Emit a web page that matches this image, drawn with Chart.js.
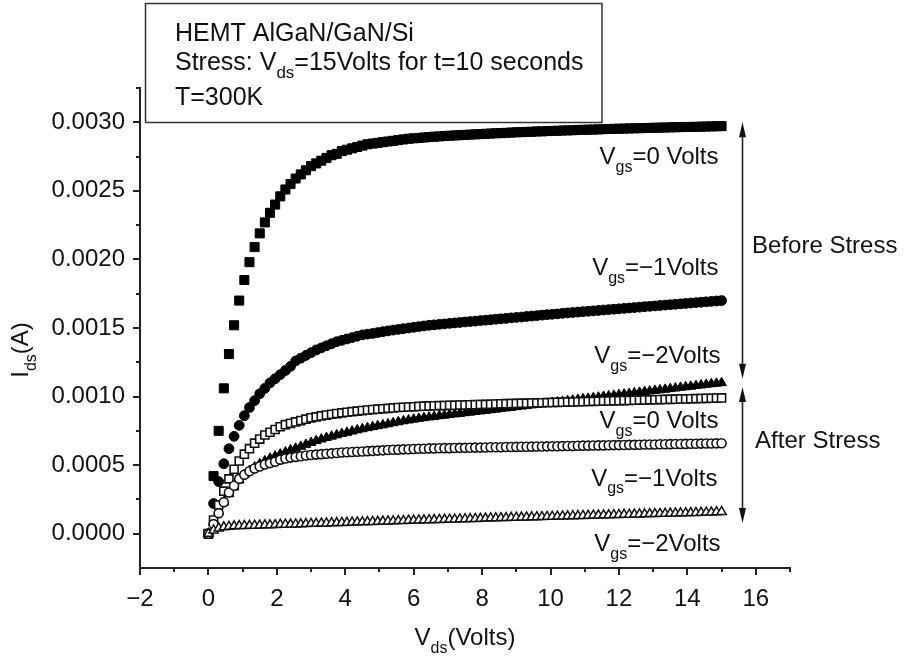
<!DOCTYPE html>
<html>
<head>
<meta charset="utf-8">
<script src="https://cdn.jsdelivr.net/npm/chart.js@4.4.0/dist/chart.umd.min.js"></script>
<style>
html, body { margin: 0; padding: 0; background: #fff; }
#wrap { width: 908px; height: 657px; }
</style>
</head>
<body>
<div id="wrap"><canvas id="ivChart" width="908" height="657"></canvas></div>
<script>
// drain voltage sweep (V)
const vds = [
  0, 0.15, 0.3, 0.45, 0.6, 0.75, 0.9, 1.05, 1.2, 1.35, 1.5, 1.65, 1.8, 1.95, 2.1, 2.25, 2.4, 2.55, 2.7, 2.85, 3,
  3.15, 3.3, 3.45, 3.6, 3.75, 3.9, 4.05, 4.2, 4.35, 4.5, 4.65, 4.8, 4.95, 5.1, 5.25, 5.4, 5.55, 5.7, 5.85, 6,
  6.15, 6.3, 6.45, 6.6, 6.75, 6.9, 7.05, 7.2, 7.35, 7.5, 7.65, 7.8, 7.95, 8.1, 8.25, 8.4, 8.55, 8.7, 8.85, 9,
  9.15, 9.3, 9.45, 9.6, 9.75, 9.9, 10.05, 10.2, 10.35, 10.5, 10.65, 10.8, 10.95, 11.1, 11.25, 11.4, 11.55, 11.7, 11.85, 12,
  12.15, 12.3, 12.45, 12.6, 12.75, 12.9, 13.05, 13.2, 13.35, 13.5, 13.65, 13.8, 13.95, 14.1, 14.25, 14.4, 14.55, 14.7, 14.85, 15
];

// drain current in mA
const beforeVgs0 = [
  0, 0.42, 0.75, 1.06, 1.31, 1.52, 1.70, 1.85, 1.98, 2.09,
  2.19, 2.27, 2.34, 2.40, 2.46, 2.51, 2.55, 2.59, 2.62, 2.65,
  2.68, 2.70, 2.72, 2.74, 2.76, 2.77, 2.79, 2.80, 2.81, 2.82,
  2.83, 2.84, 2.845, 2.85, 2.855, 2.86, 2.865, 2.87, 2.875, 2.88,
  2.883, 2.886, 2.889, 2.892, 2.895, 2.897, 2.900, 2.902, 2.904, 2.906,
  2.908, 2.910, 2.912, 2.914, 2.916, 2.918, 2.920, 2.921, 2.923, 2.925,
  2.927, 2.928, 2.930, 2.931, 2.933, 2.934, 2.936, 2.937, 2.938, 2.940,
  2.941, 2.942, 2.944, 2.945, 2.946, 2.947, 2.948, 2.950, 2.951, 2.952,
  2.953, 2.954, 2.955, 2.956, 2.957, 2.958, 2.959, 2.960, 2.961, 2.962,
  2.963, 2.964, 2.965, 2.966, 2.966, 2.967, 2.968, 2.969, 2.970, 2.971, 2.972
];
const beforeVgsM1 = [
  0, 0.22, 0.38, 0.51, 0.62, 0.71, 0.79, 0.86, 0.92, 0.97,
  1.02, 1.06, 1.10, 1.13, 1.16, 1.19, 1.22, 1.26, 1.28, 1.30,
  1.32, 1.34, 1.355, 1.37, 1.385, 1.40, 1.41, 1.42, 1.43, 1.44,
  1.45, 1.455, 1.46, 1.467, 1.473, 1.479, 1.485, 1.49, 1.495, 1.50,
  1.505, 1.51, 1.515, 1.52, 1.523, 1.527, 1.530, 1.534, 1.537, 1.540,
  1.544, 1.547, 1.550, 1.554, 1.557, 1.560, 1.564, 1.567, 1.570, 1.574,
  1.577, 1.580, 1.584, 1.587, 1.590, 1.594, 1.597, 1.600, 1.603, 1.607,
  1.610, 1.613, 1.616, 1.619, 1.622, 1.625, 1.628, 1.631, 1.634, 1.637,
  1.640, 1.643, 1.646, 1.649, 1.652, 1.655, 1.658, 1.661, 1.664, 1.667,
  1.670, 1.673, 1.676, 1.679, 1.682, 1.685, 1.688, 1.691, 1.694, 1.697, 1.700
];
const beforeVgsM2 = [
  0, 0.08, 0.16, 0.23, 0.29, 0.34, 0.39, 0.43, 0.46, 0.485,
  0.51, 0.53, 0.55, 0.565, 0.58, 0.595, 0.61, 0.622, 0.636, 0.65,
  0.664, 0.677, 0.689, 0.70, 0.71, 0.72, 0.729, 0.738, 0.747, 0.756,
  0.764, 0.772, 0.779, 0.786, 0.793, 0.80, 0.808, 0.815, 0.822, 0.828,
  0.834, 0.84, 0.845, 0.85, 0.854, 0.859, 0.863, 0.868, 0.872, 0.876,
  0.881, 0.885, 0.890, 0.894, 0.898, 0.903, 0.907, 0.912, 0.916, 0.920,
  0.925, 0.929, 0.934, 0.938, 0.942, 0.947, 0.951, 0.956, 0.960, 0.964,
  0.969, 0.973, 0.978, 0.982, 0.986, 0.991, 0.995, 1.000, 1.004, 1.008,
  1.013, 1.017, 1.022, 1.026, 1.030, 1.035, 1.039, 1.044, 1.048, 1.052,
  1.057, 1.061, 1.066, 1.070, 1.074, 1.079, 1.083, 1.088, 1.092, 1.096, 1.100
];
const afterVgs0 = [
  0, 0.10, 0.21, 0.31, 0.40, 0.47, 0.53, 0.58, 0.62, 0.66,
  0.69, 0.72, 0.74, 0.76, 0.78, 0.795, 0.805, 0.815, 0.825, 0.835,
  0.845, 0.852, 0.859, 0.865, 0.871, 0.876, 0.881, 0.886, 0.890, 0.894,
  0.898, 0.902, 0.905, 0.908, 0.911, 0.914, 0.917, 0.920, 0.922, 0.924,
  0.926, 0.928, 0.930, 0.932, 0.933, 0.934, 0.935, 0.936, 0.937, 0.938,
  0.939, 0.940, 0.941, 0.942, 0.943, 0.944, 0.946, 0.947, 0.948, 0.949,
  0.950, 0.951, 0.952, 0.953, 0.954, 0.955, 0.956, 0.957, 0.958, 0.959,
  0.960, 0.961, 0.962, 0.963, 0.964, 0.965, 0.966, 0.967, 0.968, 0.969,
  0.970, 0.971, 0.972, 0.973, 0.974, 0.975, 0.976, 0.977, 0.978, 0.979,
  0.980, 0.981, 0.982, 0.983, 0.984, 0.985, 0.986, 0.987, 0.988, 0.989, 0.990
];
const afterVgsM1 = [
  0, 0.07, 0.15, 0.23, 0.30, 0.35, 0.40, 0.43, 0.455, 0.475,
  0.49, 0.505, 0.515, 0.525, 0.54, 0.548, 0.555, 0.56, 0.565, 0.57,
  0.574, 0.577, 0.58, 0.583, 0.586, 0.589, 0.592, 0.594, 0.596, 0.598,
  0.60, 0.602, 0.604, 0.606, 0.608, 0.61, 0.612, 0.613, 0.615, 0.616,
  0.618, 0.619, 0.62, 0.622, 0.622, 0.623, 0.624, 0.624, 0.625, 0.626,
  0.626, 0.627, 0.628, 0.628, 0.629, 0.630, 0.630, 0.631, 0.632, 0.632,
  0.633, 0.634, 0.634, 0.635, 0.636, 0.636, 0.637, 0.638, 0.638, 0.639,
  0.640, 0.640, 0.641, 0.642, 0.642, 0.643, 0.644, 0.644, 0.645, 0.646,
  0.646, 0.647, 0.648, 0.648, 0.649, 0.650, 0.650, 0.651, 0.652, 0.652,
  0.653, 0.654, 0.654, 0.655, 0.656, 0.656, 0.657, 0.658, 0.658, 0.659, 0.660
];
const afterVgsM2 = [
  0, 0.025, 0.04, 0.048, 0.052, 0.055, 0.057, 0.058, 0.059, 0.060,
  0.061, 0.062, 0.063, 0.064, 0.066, 0.067, 0.068, 0.069, 0.070, 0.072,
  0.073, 0.074, 0.075, 0.076, 0.078, 0.079, 0.080, 0.081, 0.082, 0.084,
  0.085, 0.086, 0.087, 0.088, 0.090, 0.091, 0.092, 0.093, 0.094, 0.096,
  0.097, 0.098, 0.099, 0.100, 0.101, 0.102, 0.103, 0.104, 0.105, 0.106,
  0.107, 0.108, 0.109, 0.110, 0.112, 0.113, 0.114, 0.115, 0.116, 0.117,
  0.118, 0.119, 0.120, 0.121, 0.122, 0.123, 0.124, 0.125, 0.126, 0.127,
  0.128, 0.129, 0.130, 0.131, 0.132, 0.133, 0.134, 0.135, 0.136, 0.137,
  0.138, 0.139, 0.140, 0.141, 0.142, 0.143, 0.144, 0.145, 0.146, 0.147,
  0.148, 0.149, 0.150, 0.151, 0.152, 0.153, 0.154, 0.155, 0.156, 0.158, 0.160
];

// axis ticks
const xTicks = [-2, 0, 2, 4, 6, 8, 10, 12, 14, 16];
const xMinorTicks = [-1, 1, 3, 5, 7, 9, 11, 13, 15, 17];
const yTicks = [0, 0.0005, 0.001, 0.0015, 0.002, 0.0025, 0.003];
const yMinorTicks = [0.00025, 0.00075, 0.00125, 0.00175, 0.00225, 0.00275, 0.00325];

const FONT = "'Liberation Sans', Arial, Helvetica, sans-serif";
const INK = '#111';

// labels next to the curves, placed in data units
const curveNotes = [
  { text: '=0 Volts', x: 14.91, y: 0.002694 },
  { text: '=\u22121Volts', x: 14.91, y: 0.001889 },
  { text: '=\u22122Volts', x: 14.97, y: 0.001244 },
  { text: '=0 Volts', x: 14.91, y: 0.000769 },
  { text: '=\u22121Volts', x: 14.88, y: 0.000351 },
  { text: '=\u22122Volts', x: 14.97, y: -0.000124 }
];
const stressNotes = [
  { text: 'Before Stress', x: 15.89, y: 0.002047 },
  { text: 'After Stress', x: 15.98, y: 0.000625 }
];
const arrows = [
  { x: 15.6, from: 0.003, to: 0.00113 },
  { x: 15.6, from: 0.00107, to: 0.000078 }
];

function toPoints(vals) {
    return vds.map((v, i) => ({ x: v, y: vals[i] / 1000 }));
}

// draw a run of text where some pieces are subscripts
function drawRich(ctx, parts, x, y, align, size) {
    const subSize = Math.round(size * 0.68);
    let total = 0;
    parts.forEach(p => {
        ctx.font = (p[1] ? subSize : size) + 'px ' + FONT;
        total += ctx.measureText(p[0]).width;
    });
    let cx = x;
    if (align === 'right') cx = x - total;
    if (align === 'center') cx = x - total / 2;
    ctx.textAlign = 'left';
    ctx.textBaseline = 'alphabetic';
    parts.forEach(p => {
        ctx.font = (p[1] ? subSize : size) + 'px ' + FONT;
        ctx.fillText(p[0], cx, p[1] ? y + size * 0.33 : y);
        cx += ctx.measureText(p[0]).width;
    });
    return total;
}

function arrowHead(ctx, x, y, dir) {
    ctx.beginPath();
    ctx.moveTo(x, y);
    ctx.lineTo(x - 3.5, y - dir * 15);
    ctx.lineTo(x + 3.5, y - dir * 15);
    ctx.closePath();
    ctx.fill();
}

const figurePlugin = {
    id: 'figureText',
    afterDraw(chart) {
        const ctx = chart.ctx;
        const xs = chart.scales.x, ys = chart.scales.y;
        const area = chart.chartArea;
        ctx.save();
        ctx.strokeStyle = '#222';
        ctx.fillStyle = INK;

        // minor ticks
        ctx.lineWidth = 2;
        xMinorTicks.forEach(v => {
            const px = Math.round(xs.getPixelForValue(v));
            ctx.beginPath(); ctx.moveTo(px, area.bottom); ctx.lineTo(px, area.bottom + 4); ctx.stroke();
        });
        yMinorTicks.forEach(v => {
            const py = Math.round(ys.getPixelForValue(v));
            ctx.beginPath(); ctx.moveTo(area.left, py); ctx.lineTo(area.left - 4, py); ctx.stroke();
        });

        // curve labels
        curveNotes.forEach(n => {
            drawRich(ctx, [['V', false], ['gs', true], [n.text, false]],
                xs.getPixelForValue(n.x), ys.getPixelForValue(n.y), 'right', 24);
        });
        stressNotes.forEach(n => {
            drawRich(ctx, [[n.text, false]], xs.getPixelForValue(n.x), ys.getPixelForValue(n.y), 'left', 24);
        });

        // double headed arrows
        ctx.lineWidth = 1.6;
        arrows.forEach(a => {
            const px = Math.round(xs.getPixelForValue(a.x)) + 0.5;
            const top = ys.getPixelForValue(a.from), bot = ys.getPixelForValue(a.to);
            ctx.beginPath(); ctx.moveTo(px, top + 8); ctx.lineTo(px, bot - 8); ctx.stroke();
            arrowHead(ctx, px, top, -1);
            arrowHead(ctx, px, bot, 1);
        });

        // axis titles
        drawRich(ctx, [['V', false], ['ds', true], ['(Volts)', false]],
            (area.left + area.right) / 2, 645, 'center', 24);
        ctx.save();
        ctx.translate(28, 350);
        ctx.rotate(-Math.PI / 2);
        drawRich(ctx, [['I', false], ['ds', true], ['(A)', false]], 0, 0, 'center', 24);
        ctx.restore();

        // info box
        const boxLeft = 145, boxTop = 3, textLeft = 175;
        ctx.fillStyle = '#fff';
        ctx.fillRect(boxLeft, boxTop, 470, 119);
        ctx.fillStyle = INK;
        drawRich(ctx, [['HEMT AlGaN/GaN/Si', false]], textLeft, 41, 'left', 25);
        const w2 = drawRich(ctx, [['Stress: V', false], ['ds', true], ['=15Volts for t=10 seconds', false]], textLeft, 70, 'left', 25);
        drawRich(ctx, [['T=300K', false]], textLeft, 105, 'left', 25);
        ctx.strokeStyle = '#333';
        ctx.lineWidth = 1.5;
        ctx.strokeRect(boxLeft + 0.5, boxTop + 0.5, textLeft - boxLeft + w2 + 18, 119);
        ctx.restore();
    }
};

const hollow = '#ffffff';
const ink = '#000000';

const datasets = [
    { data: toPoints(beforeVgs0), pointStyle: 'rect', pointRadius: 6.4, backgroundColor: ink, borderColor: ink, pointBorderWidth: 1, order: 6 },
    { data: toPoints(beforeVgsM1), pointStyle: 'circle', pointRadius: 4.9, backgroundColor: ink, borderColor: ink, pointBorderWidth: 1, order: 5 },
    { data: toPoints(beforeVgsM2), pointStyle: 'triangle', pointRadius: 5.6, backgroundColor: ink, borderColor: ink, pointBorderWidth: 1, order: 4 },
    { data: toPoints(afterVgs0), pointStyle: 'rect', pointRadius: 5.7, backgroundColor: hollow, borderColor: '#111', pointBorderWidth: 1.6, order: 3 },
    { data: toPoints(afterVgsM1), pointStyle: 'circle', pointRadius: 4.5, backgroundColor: hollow, borderColor: '#111', pointBorderWidth: 1.6, order: 2 },
    { data: toPoints(afterVgsM2), pointStyle: 'triangle', pointRadius: 5.3, backgroundColor: hollow, borderColor: '#111', pointBorderWidth: 1.5, order: 1 }
];

const ctx = document.getElementById('ivChart').getContext('2d');
const ivChart = new Chart(ctx, {
    type: 'scatter',
    data: { datasets: datasets },
    options: {
        responsive: false,
        animation: false,
        layout: { padding: { top: 88, right: 118, bottom: 0, left: 0 } },
        plugins: {
            legend: { display: false },
            tooltip: { enabled: false }
        },
        scales: {
            x: {
                type: 'linear',
                min: -2,
                max: 17,
                afterBuildTicks: s => { s.ticks = xTicks.map(v => ({ value: v })); },
                afterFit: s => { s.height = 89; },
                ticks: {
                    autoSkip: false,
                    maxRotation: 0,
                    padding: 10,
                    color: INK,
                    font: { family: FONT, size: 24 },
                    callback: v => v < 0 ? '\u2212' + Math.abs(v) : String(v)
                },
                grid: { drawOnChartArea: false, drawTicks: true, tickLength: 7, color: '#222', lineWidth: 2 },
                border: { display: true, color: '#222', width: 2 }
            },
            y: {
                type: 'linear',
                min: -0.00025,
                max: 0.00325,
                afterBuildTicks: s => { s.ticks = yTicks.map(v => ({ value: v })); },
                afterFit: s => { s.width = 140; },
                ticks: {
                    autoSkip: false,
                    padding: 8,
                    color: INK,
                    font: { family: FONT, size: 24 },
                    callback: v => Number(v).toFixed(4)
                },
                grid: { drawOnChartArea: false, drawTicks: true, tickLength: 7, color: '#222', lineWidth: 2 },
                border: { display: true, color: '#222', width: 2 }
            }
        }
    },
    plugins: [figurePlugin]
});
</script>
</body>
</html>
